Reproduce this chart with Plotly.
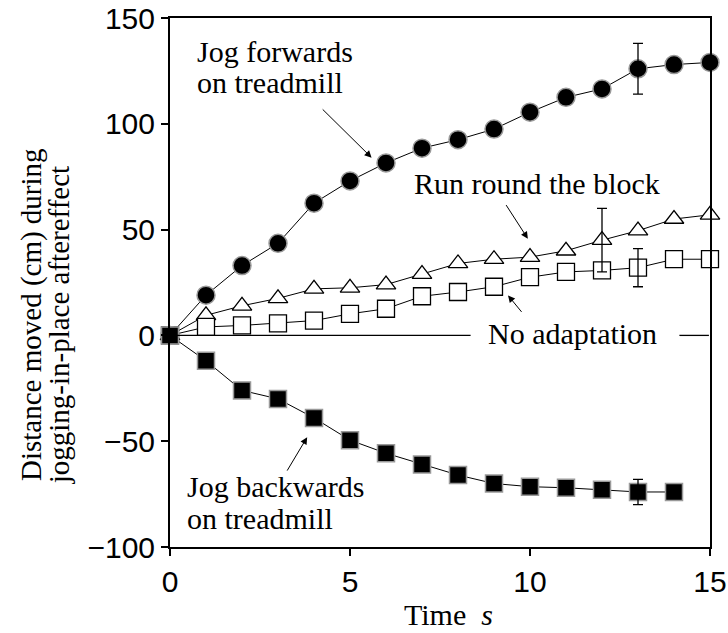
import plotly.graph_objects as go

time_s = list(range(0, 16))
jog_forwards = [0, 19, 33, 43.5, 62.5, 73, 81.5, 88.5, 92.5, 97.5, 105.5, 112.5, 116.5, 126, 128, 129]
run_block = [0, 9.5, 14, 17.5, 22, 22.5, 24, 29, 34, 36, 37, 40, 45, 49.5, 55, 57]
no_adapt = [0, 4, 4.7, 5.7, 7, 10.2, 12.6, 18.5, 20.5, 23, 27.5, 30, 30.7, 32, 36, 36]
time_back = list(range(0, 15))
jog_backwards = [0, -12, -26, -30, -39, -49.5, -55.7, -61, -66, -70, -71.5, -72, -73, -74, -74]

err_fwd_x, err_fwd_y, err_fwd_e = [13], [126], [12]
err_run_x, err_run_y, err_run_e = [12], [45], [15]
err_no_x, err_no_y, err_no_e = [13], [32], [9]
err_back_x, err_back_y, err_back_e = [13], [-74], [6]

y_ticks = [-100, -50, 0, 50, 100, 150]
x_ticks = [0, 5, 10, 15]

fig = go.Figure()
line = dict(color="black", width=1)

fig.add_trace(go.Scatter(x=time_s, y=run_block, mode="lines+markers", line=line,
                         marker=dict(symbol="triangle-up", size=17, color="white",
                                     line=dict(color="black", width=1.3)), cliponaxis=False))
fig.add_trace(go.Scatter(x=time_s, y=no_adapt, mode="lines+markers", line=line,
                         marker=dict(symbol="square", size=17, color="white",
                                     line=dict(color="black", width=1.3)), cliponaxis=False))
fig.add_trace(go.Scatter(x=time_s, y=jog_forwards, mode="lines+markers", line=line,
                         marker=dict(symbol="circle", size=18, color="black",
                                     line=dict(color="#999999", width=1.5)), cliponaxis=False))
fig.add_trace(go.Scatter(x=time_back, y=jog_backwards, mode="lines+markers", line=line,
                         marker=dict(symbol="square", size=17, color="black",
                                     line=dict(color="#999999", width=1.5)), cliponaxis=False))

for ex, ey, ee in [(err_fwd_x, err_fwd_y, err_fwd_e), (err_run_x, err_run_y, err_run_e),
                   (err_no_x, err_no_y, err_no_e), (err_back_x, err_back_y, err_back_e)]:
    fig.add_trace(go.Scatter(x=ex, y=ey, mode="markers",
                             marker=dict(size=1, color="rgba(0,0,0,0)"),
                             error_y=dict(type="data", array=ee, color="black", thickness=1.3, width=5),
                             cliponaxis=False))

# No adaptation reference line at zero
fig.add_shape(type="line", x0=0, x1=8.35, y0=0, y1=0, line=dict(color="black", width=1.3))
fig.add_shape(type="line", x0=14.15, x1=14.97, y0=0, y1=0, line=dict(color="black", width=1.3))

serif = "Liberation Serif"
ann_font = dict(family=serif, size=30, color="black")


def label(x, y, text, xanchor="left"):
    fig.add_annotation(x=x, y=y, xref="x", yref="y", text=text, showarrow=False,
                       xanchor=xanchor, yanchor="middle", font=ann_font)


def arrow(x, y, ax, ay):
    fig.add_annotation(x=x, y=y, ax=ax, ay=ay, axref="x", ayref="y", xref="x", yref="y",
                       text="", showarrow=True, arrowhead=2, arrowsize=1.4, arrowwidth=1,
                       arrowcolor="black")


label(0.7, 134, "Jog forwards")
label(0.7, 119.3, "on treadmill")
arrow(5.6, 84, 4.2, 107.5)
label(10.19, 72, "Run round the block", "center")
arrow(9.94, 45.7, 9.31, 62.3)
label(11.18, 1.1, "No adaptation", "center")
arrow(9.39, 18.9, 9.8, 10.4)
label(0.43, -71.6, "Jog backwards")
label(0.43, -86.3, "on treadmill")
arrow(3.81, -48.1, 3.23, -64.6)

title_font = dict(family=serif, size=29, color="black")
fig.add_annotation(x=-0.2555, y=0.4386, xref="paper", yref="paper",
                   text="Distance moved (cm) during", textangle=-90, showarrow=False,
                   xanchor="center", yanchor="middle", font=title_font)
fig.add_annotation(x=-0.2059, y=0.4206, xref="paper", yref="paper",
                   text="jogging-in-place aftereffect", textangle=-90, showarrow=False,
                   xanchor="center", yanchor="middle", font=title_font)
fig.add_annotation(x=0.5165, y=-0.1267, xref="paper", yref="paper",
                   text="Time  <i>s</i>", showarrow=False, xanchor="center", yanchor="middle",
                   font=dict(family=serif, size=30, color="black"))

axis_common = dict(showgrid=False, zeroline=False, showline=True, linecolor="black", linewidth=2,
                   mirror=True, ticks="outside", ticklen=7, tickwidth=1.5, tickcolor="black",
                   ticklabeloverflow="allow", automargin=False,
                   tickfont=dict(family="Liberation Sans", size=30, color="black"))
fig.update_xaxes(range=[0, 15], tickvals=x_ticks, **axis_common)
fig.update_yaxes(range=[-100, 150], tickvals=y_ticks, **axis_common)

fig.update_layout(width=728, height=633, margin=dict(l=170, r=18, t=18, b=86),
                  paper_bgcolor="white", plot_bgcolor="white", showlegend=False)

fig.write_html("out.html")
